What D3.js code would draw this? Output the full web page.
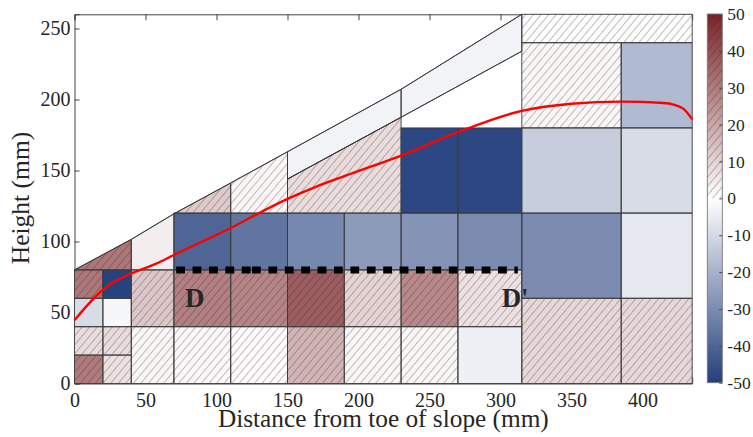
<!DOCTYPE html>
<html>
<head>
<meta charset="utf-8">
<script src="https://cdn.jsdelivr.net/npm/d3@7"></script>
<style>
  html, body { margin: 0; padding: 0; background: #fff; }
  svg { display: block; }
  text { font-family: "Liberation Serif", "Times New Roman", serif; fill: #262626; }
</style>
</head>
<body>
<svg id="chart" width="753" height="437"></svg>
<script>
// ---- data (mm, strain-change values) ----
// rectangular cells: [x0, x1, y0, y1]
const rectCells = [
  [0, 20, 0, 20], [0, 20, 20, 40], [0, 20, 40, 60], [0, 20, 60, 80],
  [20, 40, 0, 20], [20, 40, 20, 40], [20, 40, 40, 60], [20, 40, 60, 80],
  [40, 70, 0, 40], [40, 70, 40, 80],
  [70, 110, 0, 40], [70, 110, 40, 80], [70, 110, 80, 120],
  [110, 150, 0, 40], [110, 150, 40, 80], [110, 150, 80, 120],
  [150, 190, 0, 40], [150, 190, 40, 80], [150, 190, 80, 120],
  [190, 230, 0, 40], [190, 230, 40, 80], [190, 230, 80, 120],
  [230, 270, 0, 40], [230, 270, 40, 80], [230, 270, 80, 120], [230, 270, 120, 180],
  [270, 315, 0, 40], [270, 315, 40, 80], [270, 315, 80, 120], [270, 315, 120, 180],
  [315, 385, 0, 60], [315, 385, 60, 120], [315, 385, 120, 180], [315, 385, 180, 240],
  [385, 435, 0, 60], [385, 435, 60, 120], [385, 435, 120, 180], [385, 435, 180, 240],
  [315, 435, 240, 260]
];
const rectValues = [
  30, 8, -9, 31,
  7, 8, -2, -49,
  2, 13,
  1.5, 29, -40,
  0.8, 28, -36,
  17, 37, -31,
  2, 10, -26,
  2, 27, -28, -48,
  -4, 7, -30, -48,
  9, -30, -13, 2,
  9, -6, -9, -18,
  0.5
];
const rectHatched = [
  1, 1, 0, 1,
  1, 1, 0, 0,
  1, 1,
  1, 1, 0,
  1, 1, 0,
  1, 1, 0,
  1, 1, 0,
  1, 1, 0, 0,
  0, 1, 0, 0,
  1, 0, 0, 1,
  1, 0, 0, 0,
  1
];

// slope surface and the parallel surface layer
const slopeX = [0, 40, 70, 110, 150, 230, 315];
const slopeY = [80, 101.5, 119.5, 141.2, 163.2, 207.2, 260];
const layerX = [150, 230, 315];
const layerY = [144, 187.5, 234];

// cells cut by the slope face: vertex lists [x, y]
const slopeCells = [
  [[0, 80], [40, 80], [40, 101.5]],
  [[40, 80], [70, 80], [70, 119.5], [40, 101.5]],
  [[70, 120], [110, 120], [110, 141.2], [70, 119.5]],
  [[110, 120], [150, 120], [150, 163.2], [110, 141.2]],
  [[150, 120], [230, 120], [230, 187.5], [150, 144]],
  [[150, 144], [230, 187.5], [230, 207.2], [150, 163.2]],
  [[230, 187.5], [315, 234], [315, 260], [230, 207.2]]
];
const slopeValues = [31, 4, 12, 2, 8, -3, -3];
const slopeHatched = [1, 0, 1, 1, 1, 0, 0];

// phreatic surface
const curveX = [0, 9, 20, 30, 40, 58, 70, 90, 110, 130, 150, 170, 190, 230, 270, 315, 350, 385, 415, 428, 435];
const curveY = [44.5, 55, 66, 72.8, 77.5, 84.6, 90.5, 100, 109.5, 120, 130, 138.5, 146, 160.5, 177, 192, 197, 198.5, 197.5, 194, 186];

// section line D-D' at 80 mm
const sectionRuns = [[71.6, 125], [125, 312.2]];
const sectionHeight = 80;

// ticks
const xTicks = [0, 50, 100, 150, 200, 250, 300, 350, 400];
const yTicks = [0, 50, 100, 150, 200, 250];
const cbTicks = [-50, -40, -30, -20, -10, 0, 10, 20, 30, 40, 50];

// ---- drawing ----
const svg = d3.select("#chart");
const x = d3.scaleLinear().domain([0, 435]).range([74.5, 692.2]);
const y = d3.scaleLinear().domain([0, 260]).range([383.5, 14.3]);
const color = d3.scaleLinear().domain([-50, 0, 50]).range(["#233f7c", "#ffffff", "#7b2327"]);

const defs = svg.append("defs");
const hatch = defs.append("pattern")
  .attr("id", "hatch")
  .attr("patternUnits", "userSpaceOnUse")
  .attr("width", 5.8).attr("height", 10)
  .attr("patternTransform", "rotate(40)");
hatch.append("line")
  .attr("x1", 0).attr("y1", -2).attr("x2", 0).attr("y2", 12)
  .attr("stroke", "#2a2a2a").attr("stroke-opacity", 0.8).attr("stroke-width", 0.75);

// axes (ticks pointing inward, drawn under the cells)
const axisStyle = g => {
  g.selectAll(".domain").attr("stroke", "#444").attr("stroke-width", 1);
  g.selectAll(".tick line").attr("stroke", "#444").attr("stroke-width", 1);
  g.selectAll("text").style("font-family", "'Liberation Serif', serif").style("font-size", "20px").attr("fill", "#262626");
};
svg.append("g").attr("transform", `translate(0,${y(0)})`)
  .call(d3.axisBottom(x).tickValues(xTicks).tickSize(-6).tickPadding(9.5).tickFormat(d3.format("d")))
  .call(axisStyle);
svg.append("g").attr("transform", `translate(0,${y(260)})`)
  .call(d3.axisTop(x).tickValues(xTicks).tickSize(-6).tickFormat(""))
  .call(axisStyle);
svg.append("g").attr("transform", `translate(${x(0)},0)`)
  .call(d3.axisLeft(y).tickValues(yTicks).tickSize(-5).tickPadding(4).tickFormat(d3.format("d")))
  .call(axisStyle);

// cells
const cellsG = svg.append("g");
const rectData = rectCells.map((c, i) => ({
  pts: [[c[0], c[2]], [c[1], c[2]], [c[1], c[3]], [c[0], c[3]]],
  v: rectValues[i], h: rectHatched[i]
}));
const polyData = slopeCells.map((p, i) => ({ pts: p, v: slopeValues[i], h: slopeHatched[i] }));
const allCells = rectData.concat(polyData);
const pathOf = d => "M" + d.pts.map(p => `${x(p[0])},${y(p[1])}`).join("L") + "Z";

cellsG.selectAll("path.fill").data(allCells).join("path")
  .attr("class", "fill")
  .attr("d", pathOf)
  .attr("fill", d => color(d.v));
cellsG.selectAll("path.hatch").data(allCells.filter(d => d.h)).join("path")
  .attr("class", "hatch")
  .attr("d", pathOf)
  .attr("fill", "url(#hatch)");
cellsG.selectAll("path.edge").data(allCells).join("path")
  .attr("class", "edge")
  .attr("d", pathOf)
  .attr("fill", "none")
  .attr("stroke", "#3a3a3a")
  .attr("stroke-width", 0.9)
  .attr("stroke-linejoin", "round");

// slope face and the upper layer boundary
const lineGen = d3.line().x(d => x(d[0])).y(d => y(d[1]));
svg.append("path")
  .attr("d", lineGen(slopeX.map((v, i) => [v, slopeY[i]])))
  .attr("fill", "none").attr("stroke", "#3a3a3a").attr("stroke-width", 0.9);
svg.append("path")
  .attr("d", lineGen(layerX.map((v, i) => [v, layerY[i]])))
  .attr("fill", "none").attr("stroke", "#3a3a3a").attr("stroke-width", 0.9);

// phreatic line
svg.append("path")
  .attr("d", d3.line().x(d => x(d[0])).y(d => y(d[1])).curve(d3.curveMonotoneX)(curveX.map((v, i) => [v, curveY[i]])))
  .attr("fill", "none").attr("stroke", "#ff0000").attr("stroke-width", 2.4);

// section D-D'
svg.selectAll("line.section").data(sectionRuns).join("line")
  .attr("class", "section")
  .attr("x1", d => x(d[0])).attr("x2", d => x(d[1]))
  .attr("y1", y(sectionHeight)).attr("y2", y(sectionHeight))
  .attr("stroke", "#000").attr("stroke-width", 7)
  .attr("stroke-dasharray", "8.8 7.6");

svg.append("text").attr("x", x(77.8)).attr("y", y(54.2))
  .style("font-size", "27px").style("font-weight", "bold").attr("fill", "#000").text("D");
svg.append("text").attr("x", x(300.8)).attr("y", y(54.2))
  .style("font-size", "27px").style("font-weight", "bold").attr("fill", "#000").text("D'");

// axis titles
svg.append("text")
  .attr("x", x(217.5)).attr("y", 427)
  .attr("text-anchor", "middle")
  .style("font-size", "25.3px")
  .text("Distance from toe of slope (mm)");
svg.append("text")
  .attr("transform", `translate(29,${198}) rotate(-90)`)
  .attr("text-anchor", "middle")
  .style("font-size", "25.5px")
  .text("Height (mm)");

// colour bar
const cbX0 = 707.3, cbW = 15;
const cb = d3.scaleLinear().domain([-50, 50]).range([382.7, 14]);
const grad = defs.append("linearGradient").attr("id", "cbgrad")
  .attr("x1", 0).attr("y1", 1).attr("x2", 0).attr("y2", 0);
grad.selectAll("stop").data(d3.range(-50, 51, 5)).join("stop")
  .attr("offset", d => (d + 50) / 100)
  .attr("stop-color", d => color(d));
svg.append("rect").attr("x", cbX0).attr("y", cb(50)).attr("width", cbW).attr("height", cb(-50) - cb(50))
  .attr("fill", "url(#cbgrad)");
svg.append("rect").attr("x", cbX0).attr("y", cb(50)).attr("width", cbW).attr("height", cb(0) - cb(50))
  .attr("fill", "url(#hatch)");
const cbAxis = svg.append("g").attr("transform", `translate(${cbX0 + cbW},0)`)
  .call(d3.axisRight(cb).tickValues(cbTicks).tickSize(-3).tickPadding(5).tickFormat(d => d < 0 ? "-" + Math.abs(d) : String(d)));
cbAxis.select(".domain").remove();
cbAxis.selectAll(".tick line").attr("stroke", "#444");
cbAxis.selectAll("text").style("font-family", "'Liberation Serif', serif").style("font-size", "17.5px").attr("fill", "#262626");
svg.append("rect").attr("x", cbX0).attr("y", cb(50)).attr("width", cbW).attr("height", cb(-50) - cb(50))
  .attr("fill", "none").attr("stroke", "#777").attr("stroke-width", 0.9);
</script>
</body>
</html>
